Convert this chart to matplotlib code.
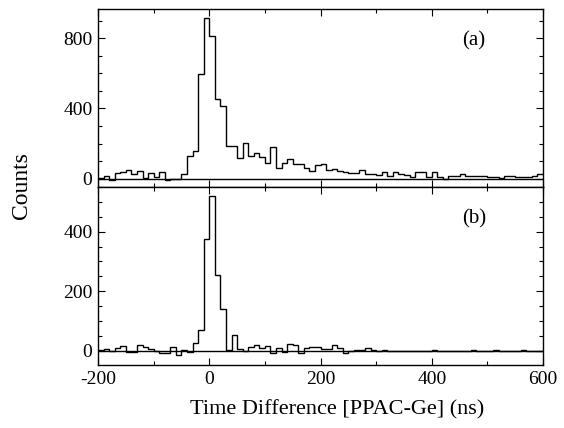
import numpy as np
import matplotlib
matplotlib.use('Agg')
import matplotlib.pyplot as plt
from matplotlib.ticker import MultipleLocator

plt.rcParams['font.family'] = ['Liberation Serif', 'DejaVu Serif']
plt.rcParams['axes.unicode_minus'] = False

# histogram bins (ns)
bin_start = -200
bin_width = 10
n_bins = 80

# panel (a): counts per 10 ns bin, from -200 ns
counts_a = [5, 15, -10, 29, 38, 51, 25, 44, 4, 34,
            10, 40, -10, -4, -4, 25, 128, 158, 596, 918,
            813, 451, 413, 187, 187, 120, 204, 128, 147, 124,
            91, 181, 63, 91, 114, 82, 84, 61, 45, 75,
            86, 50, 57, 45, 40, 34, 34, 48, 28, 25,
            20, 40, 15, 38, 24, 22, 10, 38, 36, 10,
            36, 10, -4, 13, 13, 28, 13, 14, 14, 12,
            8, 8, 6, 12, 13, 10, 9, 10, 13, 25]

# panel (b)
counts_b = [4, 7, 0, 10, 17, -6, -6, 19, 11, 7,
            0, -7, -9, 11, -15, 4, -6, 27, 68, 375,
            521, 255, 139, 2, 54, 6, 0, 13, 18, 8,
            16, -7, 8, -6, 22, 19, -7, 8, 13, 13,
            5, 5, 19, 10, -9, 0, 4, 2, 8, 4,
            0, 4, 0, 0, 0, 0, 0, 0, 0, 0,
            4, 0, 0, 0, 0, 0, 0, 4, 0, 0,
            0, 3, 0, 0, 0, 0, 2, 0, 0, 0]

edges = bin_start + bin_width * np.arange(n_bins + 1)

fig = plt.figure(figsize=(5.64, 4.28), dpi=100)
ax_a = fig.add_axes([98/564, 1-187/428, 445/564, 178/428])
ax_b = fig.add_axes([98/564, 1-365/428, 445/564, 178/428], sharex=ax_a)

for ax, counts, ylim, ymaj, ymin, lab in [
        (ax_a, counts_a, (-48, 967), 400, 100, '(a)'),
        (ax_b, counts_b, (-48, 550), 200, 50, '(b)')]:
    ax.stairs(counts, edges, baseline=None, color='black', lw=1.0)
    ax.axhline(0, color='black', lw=1.0)
    ax.set_xlim(-200, 600)
    ax.set_ylim(*ylim)
    ax.xaxis.set_major_locator(MultipleLocator(200))
    ax.xaxis.set_minor_locator(MultipleLocator(100))
    ax.yaxis.set_major_locator(MultipleLocator(ymaj))
    ax.yaxis.set_minor_locator(MultipleLocator(ymin))
    ax.tick_params(which='both', direction='in', top=True, right=True,
                   labelsize=14, width=0.8)
    ax.tick_params(which='major', length=5, pad=4)
    ax.tick_params(which='minor', length=3)
    for s in ax.spines.values():
        s.set_linewidth(1.0)
    ax.text(0.845, 0.82, lab, transform=ax.transAxes, fontsize=15,
            ha='center', va='center')

ax_a.tick_params(labelbottom=False)

fig.text(22/564, 1-186/428, 'Counts', rotation=90, fontsize=17,
         ha='center', va='center')
fig.text(337/564, 1-410/428, 'Time Difference [PPAC-Ge] (ns)', fontsize=16,
         ha='center', va='center')

fig.savefig('out.png', dpi=100)
